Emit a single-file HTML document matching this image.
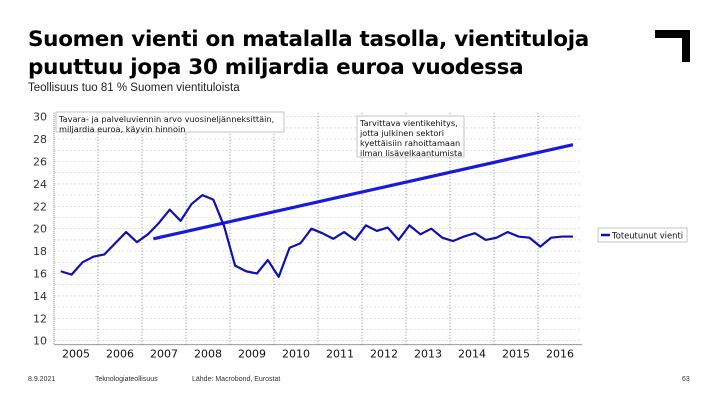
<!DOCTYPE html>
<html><head><meta charset="utf-8"><style>
body{margin:0;width:720px;height:405px;background:#fff;overflow:hidden;position:relative;font-family:"Liberation Sans","DejaVu Sans",sans-serif}
.t{position:absolute;left:28px;top:26px;font-size:21.5px;font-weight:bold;line-height:28px;color:#000;font-family:"DejaVu Sans","Liberation Sans",sans-serif;letter-spacing:-0.3px}
.s{position:absolute;left:28px;top:82px;font-size:11.5px;color:#222}
.f{position:absolute;top:376px;font-size:7px;color:#333}
</style></head><body>
<div class="t">Suomen vienti on matalalla tasolla, vientituloja<br>puuttuu jopa 30 miljardia euroa vuodessa</div>
<div class="s">Teollisuus tuo 81 % Suomen vientituloista</div>
<div style="position:absolute;left:655px;top:30px;width:35px;height:8px;background:#000"></div>
<div style="position:absolute;left:682px;top:30px;width:8px;height:32px;background:#000"></div>
<svg id="c" width="720" height="405" style="position:absolute;left:0;top:0" font-family="DejaVu Sans, Liberation Sans, sans-serif"></svg>
<div class="f" style="left:28px">8.9.2021</div>
<div class="f" style="left:95px">Teknologiateollisuus</div>
<div class="f" style="left:192px">Lähde: Macrobond, Eurostat</div>
<div class="f" style="left:682px">63</div>
<script>
const years=["2005","2006","2007","2008","2009","2010","2011","2012","2013","2014","2015","2016"];
const yTicks=[10,12,14,16,18,20,22,24,26,28,30];
const actual=[16.2,15.9,17.0,17.5,17.7,18.7,19.7,18.8,19.5,20.5,21.7,20.7,22.2,23.0,22.6,20.2,16.7,16.2,16.0,17.2,15.7,18.3,18.7,20.0,19.6,19.1,19.7,19.0,20.3,19.8,20.1,19.0,20.3,19.5,20.0,19.2,18.9,19.3,19.6,19.0,19.2,19.7,19.3,19.2,18.4,19.2,19.3,19.3];
const targetIdx=[8.5,47];
const targetVal=[19.1,27.5];
const svg=document.getElementById('c');const NS='http://www.w3.org/2000/svg';
const L=54,R=582,T=116.7,B=340.7;
const yS=v=>B-(v-10)/20*(B-T);
const yrW=44;
const xQ=i=>60.7+i*10.9;
function mk(t,a,p){const e=document.createElementNS(NS,t);for(const k in a)e.setAttribute(k,a[k]);(p||svg).appendChild(e);return e;}
for(let v=10;v<=30;v++){const g=mk('line',{x1:L,x2:R,y1:yS(v),y2:yS(v),stroke:'#ccc','stroke-width':0.6,'stroke-dasharray':'2,2'});

}
yTicks.forEach(v=>{const t=mk('text',{x:47,y:yS(v)+4,'text-anchor':'end','font-size':11,fill:'#333'});t.textContent=v;

});
years.forEach((y,i)=>{const x0=L+i*yrW;
if(i>0){const l=mk('line',{x1:x0,x2:x0,y1:T-4,y2:B+6,stroke:'#666','stroke-width':0.8,'stroke-dasharray':'1,2'});

}
const t=mk('text',{x:x0+yrW/2,y:B+17,'text-anchor':'middle','font-size':11,fill:'#111'});t.textContent=y;

});
const ax=mk('line',{x1:L,x2:L,y1:T-4,y2:B+4,stroke:'#555','stroke-width':0.8,'stroke-dasharray':'1,1'});


const bx=mk('line',{x1:L,x2:R,y1:B+4,y2:B+4,stroke:'#888','stroke-width':0.8});


const tl=mk('line',{x1:xQ(targetIdx[0]),y1:yS(targetVal[0]),x2:xQ(targetIdx[1]),y2:yS(targetVal[1]),stroke:'#1a1adc','stroke-width':3.2});


const pl=mk('polyline',{points:actual.map((v,i)=>xQ(i)+','+yS(v)).join(' '),fill:'none',stroke:'#1010b0','stroke-width':2.2,'stroke-linejoin':'round'});


function box(x,y,w,h,lines,name){const g=mk('g',{});


mk('rect',{x:x,y:y,width:w,height:h,fill:'#fff',stroke:'#aaa','stroke-width':0.7},g);
lines.forEach((s,i)=>{const t=mk('text',{x:x+3,y:y+10+i*10,'font-size':8.2,fill:'#111'},g);t.textContent=s;});}
box(56,112,228,20,["Tavara- ja palveluviennin arvo vuosineljänneksittäin,","miljardia euroa, käyvin hinnoin"],'chart-note');
box(357,116,107,41,["Tarvittava vientikehitys,","jotta julkinen sektori","kyettäisiin rahoittamaan","ilman lisävelkaantumista"],'target-annotation');
const lg=mk('g',{});


mk('rect',{x:598,y:228,width:89,height:14,fill:'#fff',stroke:'#aaa','stroke-width':0.7},lg);
mk('line',{x1:601,x2:610,y1:235,y2:235,stroke:'#1010b0','stroke-width':2.5},lg);
const lt=mk('text',{x:612,y:238.5,'font-size':8.4,fill:'#111'},lg);lt.textContent='Toteutunut vienti';
</script>
</body></html>
